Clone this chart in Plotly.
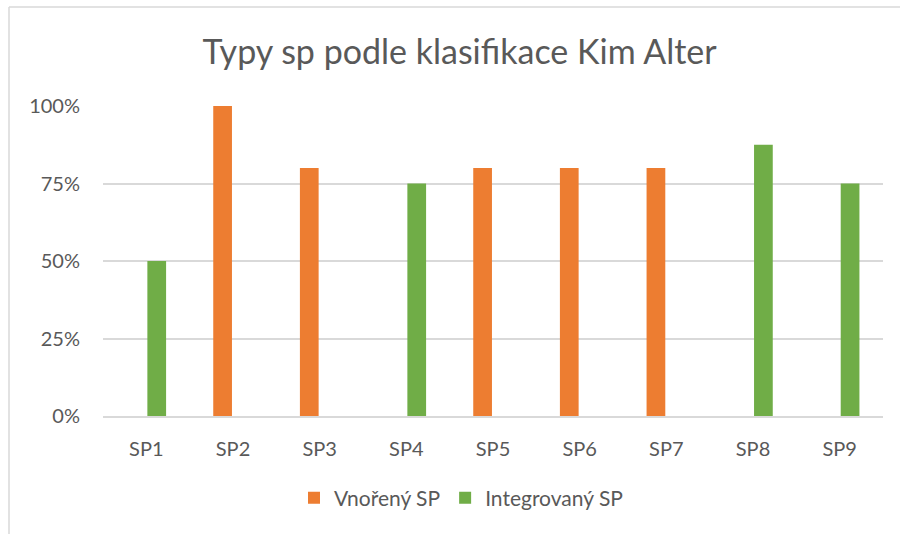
import plotly.graph_objects as go

categories = ["SP1", "SP2", "SP3", "SP4", "SP5", "SP6", "SP7", "SP8", "SP9"]
vnoreny = [None, 1.0, 0.8, None, 0.8, 0.8, 0.8, None, None]
integrovany = [0.5, None, None, 0.75, None, None, None, 0.875, 0.75]
y_ticks = [0, 0.25, 0.5, 0.75, 1.0]
y_tick_labels = ["0%", "25%", "50%", "75%", "100%"]

FONT = "Lato, 'Open Sans', sans-serif"
GREY = "#595959"

fig = go.Figure()
fig.add_trace(go.Bar(x=categories, y=vnoreny, name="Vnořený SP", marker_color="#ED7D31"))
fig.add_trace(go.Bar(x=categories, y=integrovany, name="Integrovaný SP", marker_color="#70AD47"))

fig.update_layout(
    template="none",
    width=900, height=534,
    margin=dict(l=103, r=17, t=106, b=118, autoexpand=False),
    paper_bgcolor="white", plot_bgcolor="white",
    barmode="group", bargap=0.52, bargroupgap=0.1,
    font=dict(family=FONT, color=GREY, size=20),
    title=dict(text="Typy sp podle klasifikace Kim Alter", x=0.5106, xanchor="center",
               y=1 - 52 / 534, yanchor="middle", yref="container",
               font=dict(family=FONT, size=34, color=GREY)),
    legend=dict(orientation="h", x=(461 - 103) / 780, xanchor="center", xref="paper",
                y=(416 - 498) / 310, yanchor="middle", yref="paper",
                itemwidth=30,
                font=dict(family=FONT, size=21, color=GREY)),
    showlegend=True,
)
fig.update_yaxes(range=[0, 1.0001], tickvals=y_ticks, ticktext=y_tick_labels,
                 showgrid=True, gridcolor="#d9d9d9", gridwidth=1.5, automargin=False,
                 zeroline=False, showline=False, ticks="", ticklabelstandoff=22,
                 tickfont=dict(family=FONT, size=20, color=GREY))
fig.update_xaxes(showgrid=False, showline=True, linecolor="#d9d9d9", linewidth=1.5,
                 ticks="", ticklabelstandoff=14, automargin=False, tickangle=0,
                 tickfont=dict(family=FONT, size=20, color=GREY))

# chart border (partially cropped in the reference)
x0 = (9 - 103) / 780
x1 = (900 - 103) / 780
yt = (416 - 7) / 310
yb = (416 - 534) / 310
fig.add_shape(type="line", xref="paper", yref="paper", x0=x0, x1=x1, y0=yt, y1=yt,
              line=dict(color="#d9d9d9", width=1.5))
fig.add_shape(type="line", xref="paper", yref="paper", x0=x0, x1=x0, y0=yt, y1=yb,
              line=dict(color="#d9d9d9", width=1.5))

fig.write_html("out.html", config={"displayModeBar": False},
               post_script="document.body.style.margin='0';document.body.style.overflow='hidden';")
